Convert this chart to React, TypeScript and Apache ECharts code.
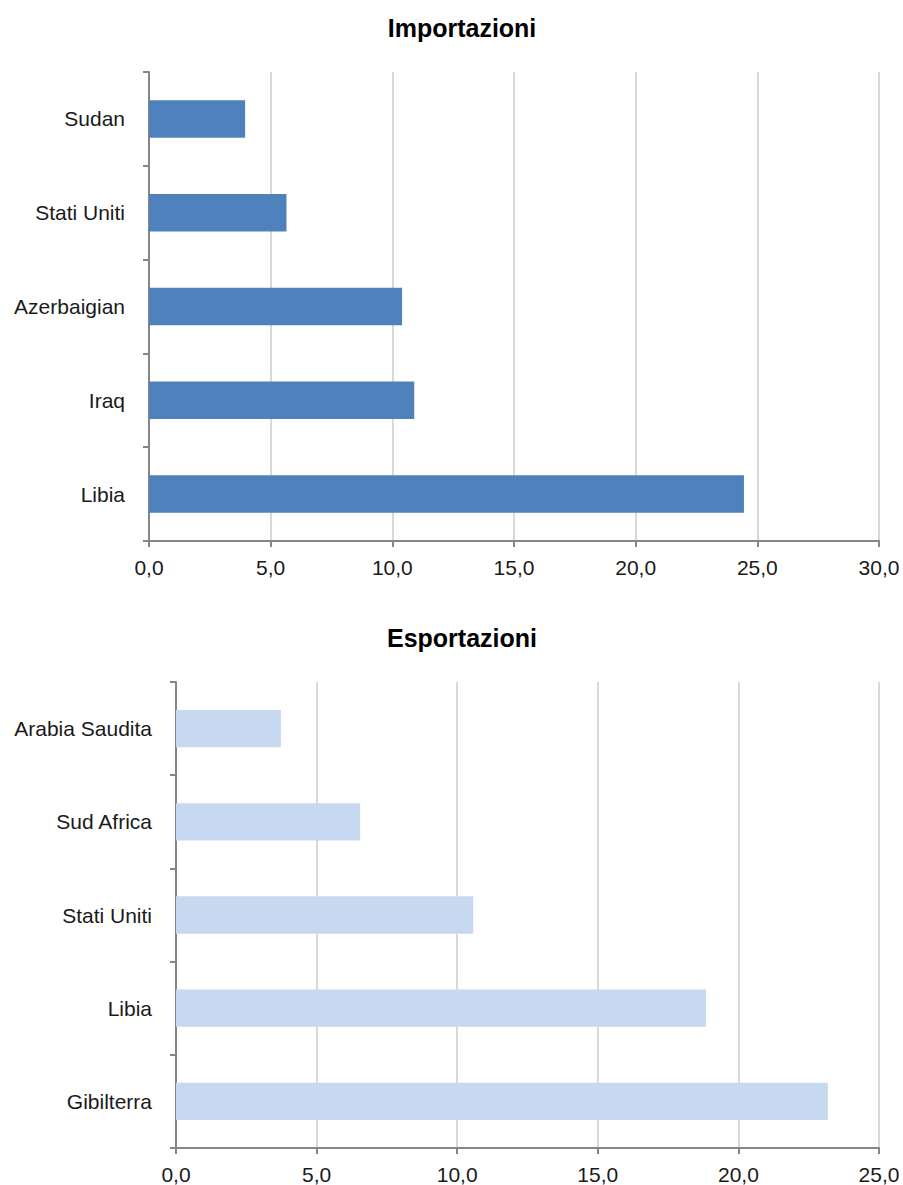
import React, { useEffect, useRef } from "react";
import * as echarts from "echarts";

const importCategories = ["Sudan", "Stati Uniti", "Azerbaigian", "Iraq", "Libia"];
const importValues = [3.95, 5.65, 10.4, 10.9, 24.45];
const exportCategories = ["Arabia Saudita", "Sud Africa", "Stati Uniti", "Libia", "Gibilterra"];
const exportValues = [3.73, 6.55, 10.57, 18.85, 23.18];
const importMax = 30;
const exportMax = 25;
const tickStep = 5;

const FONT = "'Liberation Sans', Arial, sans-serif";
const AXIS_COLOR = "#868686";
const GRID_COLOR = "#D9D9D9";
const LABEL_COLOR = "#1a1a1a";

function fmt(v: number) {
  return v.toFixed(1).replace(".", ",");
}

function valueAxis(gridIndex: number, max: number) {
  return {
    type: "value",
    gridIndex,
    min: 0,
    max,
    interval: tickStep,
    axisLine: { show: true, lineStyle: { color: AXIS_COLOR, width: 2 } },
    axisTick: { show: true, length: 6, lineStyle: { color: AXIS_COLOR, width: 2 } },
    axisLabel: {
      formatter: (v: number) => fmt(v),
      fontFamily: FONT,
      fontSize: 21,
      color: LABEL_COLOR,
      margin: 16,
    },
    splitLine: { show: true, lineStyle: { color: GRID_COLOR, width: 2 } },
  };
}

function catAxis(gridIndex: number, data: string[]) {
  return {
    type: "category",
    gridIndex,
    data,
    inverse: true,
    axisLine: { show: true, lineStyle: { color: AXIS_COLOR, width: 2 } },
    axisTick: { show: true, length: 6, lineStyle: { color: AXIS_COLOR, width: 2 } },
    axisLabel: {
      fontFamily: FONT,
      fontSize: 21,
      color: LABEL_COLOR,
      margin: 24,
    },
    splitLine: { show: false },
  };
}

export default function App() {
  const ref = useRef<HTMLDivElement>(null);
  useEffect(() => {
    if (!ref.current) return;
    const chart = echarts.init(ref.current, undefined, { renderer: "svg" });
    chart.setOption({
      animation: false,
      backgroundColor: "#ffffff",
      title: [
        {
          text: "Importazioni",
          left: 457,
          top: 10,
          textAlign: "center",
          textStyle: { fontFamily: FONT, fontSize: 25, fontWeight: "bold", color: "#000" },
        },
        {
          text: "Esportazioni",
          left: 457,
          top: 620,
          textAlign: "center",
          textStyle: { fontFamily: FONT, fontSize: 25, fontWeight: "bold", color: "#000" },
        },
      ],
      grid: [
        { left: 149, top: 72, width: 730, height: 469, containLabel: false },
        { left: 176, top: 682, width: 703, height: 466, containLabel: false },
      ],
      xAxis: [valueAxis(0, importMax), valueAxis(1, exportMax)],
      yAxis: [catAxis(0, importCategories), catAxis(1, exportCategories)],
      series: [
        {
          type: "bar",
          xAxisIndex: 0,
          yAxisIndex: 0,
          data: importValues,
          barWidth: "40%",
          itemStyle: { color: "#4F81BD" },
        },
        {
          type: "bar",
          xAxisIndex: 1,
          yAxisIndex: 1,
          data: exportValues,
          barWidth: "40%",
          itemStyle: { color: "#C6D9F0" },
        },
      ],
    });
    return () => chart.dispose();
  }, []);
  return (
    <div
      ref={ref}
      style={{ position: "absolute", left: 0, top: 0, width: 903, height: 1185, background: "#fff" }}
    />
  );
}
